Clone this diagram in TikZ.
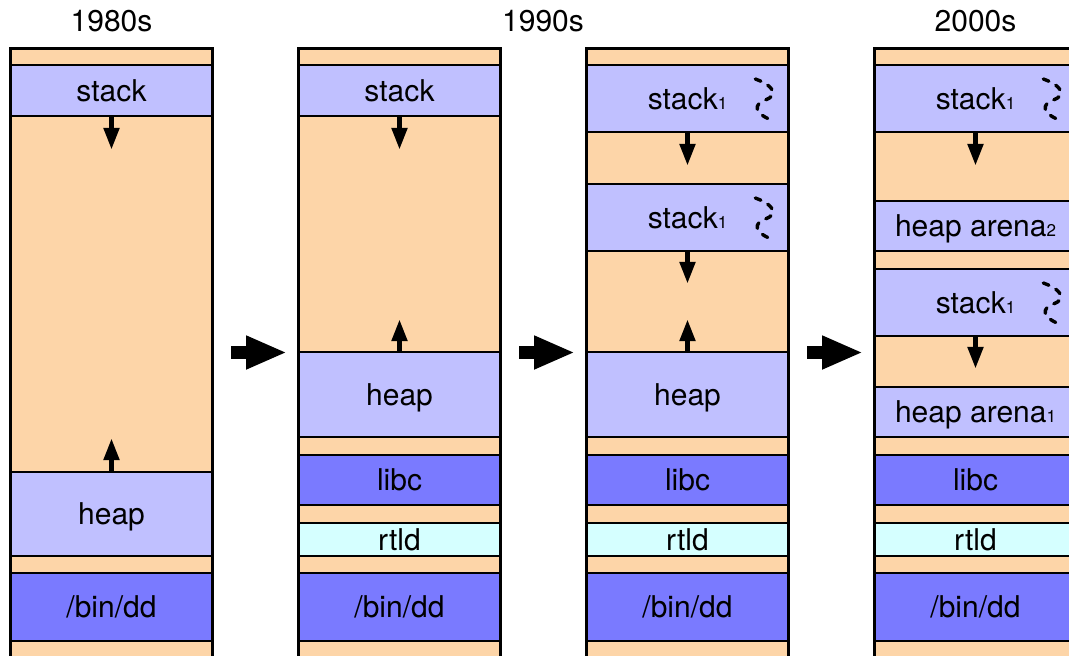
\documentclass[tikz,border=0pt]{standalone}
\usepackage{fontspec}
\setmainfont{TeX Gyre Heros}
\usetikzlibrary{arrows.meta}

\definecolor{peach}{RGB}{253,213,168}
\definecolor{lightmem}{RGB}{192,192,255}
\definecolor{darkmem}{RGB}{122,122,255}
\definecolor{ldcyan}{RGB}{213,255,255}
\newcommand{\lowidx}[1]{{\fontsize{17}{17}\selectfont #1}}

\tikzset{
  band/.style={draw, line width=1.6pt, minimum width=202pt, inner sep=0pt,
    text height=21pt, text depth=0pt},
  mem/.style={band, fill=lightmem},
  lib/.style={band, fill=darkmem},
  ldr/.style={band, fill=ldcyan},
  dirarrow/.style={line width=5pt, -{Triangle[length=22pt 0, width=15pt 0]}},
  bigarrow/.style={line width=13pt, -{Triangle[length=41pt 0, width=31pt 0]}},
  thread/.pic={
    \draw[line width=3.4pt, line cap=round, dash pattern=on 6pt off 8pt]
      (-34,-19.5) .. controls (-24,-16) and (-14,-10) .. (-17,-3)
      .. controls (-19,1) and (-30,2) .. (-32,8)
      .. controls (-33,15) and (-24,19) .. (-16,22.5);
  }
}

\begin{document}
\begin{tikzpicture}[x=1pt, y=-1pt, font=\fontsize{30}{36}\selectfont]
  \useasboundingbox (0,0) rectangle (1069,656);
  \clip (0,0) rectangle (1069,656);

  % column backgrounds
  \foreach \l in {10.5,298.5,586.5,874.5}
    \fill[peach] (\l,48.5) rectangle (\l+202,700);

  % years
  \node[anchor=base] (y80) at (111.5,31) {1980s};
  \node[anchor=base] (y90) at (543,31) {1990s};
  \node[anchor=base] (y00) at (975.5,31) {2000s};

  % 1980s
  \node[mem, minimum height=51pt] (a1) at (111.5,90.5) {stack};
  \node[mem, minimum height=84pt] (a2) at (111.5,514) {heap};
  \node[lib, minimum height=68pt] (a3) at (111.5,607) {/bin/dd};
  \draw[dirarrow] (a1.south) -- ++(0,33);
  \draw[dirarrow] (a2.north) -- ++(0,-33);

  % 1990s, no threads
  \node[mem, minimum height=51pt] (b1) at (399.5,90.5) {stack};
  \node[mem, minimum height=85pt] (b2) at (399.5,394.5) {heap};
  \node[lib, minimum height=50pt] (b3) at (399.5,480) {libc};
  \node[ldr, minimum height=33pt] (b4) at (399.5,539.5) {rtld};
  \node[lib, minimum height=68pt] (b5) at (399.5,607) {/bin/dd};
  \draw[dirarrow] (b1.south) -- ++(0,33);
  \draw[dirarrow] (b2.north) -- ++(0,-32);

  % 1990s, threads
  \node[mem, minimum height=67pt] (c1) at (687.5,98.5) {stack\lowidx{1}};
  \node[mem, minimum height=67pt] (c2) at (687.5,217.5) {stack\lowidx{1}};
  \node[mem, minimum height=85pt] (c3) at (687.5,394.5) {heap};
  \node[lib, minimum height=50pt] (c4) at (687.5,480) {libc};
  \node[ldr, minimum height=33pt] (c5) at (687.5,539.5) {rtld};
  \node[lib, minimum height=68pt] (c6) at (687.5,607) {/bin/dd};
  \pic at (c1.east) {thread};
  \pic at (c2.east) {thread};
  \draw[dirarrow] (c1.south) -- ++(0,33);
  \draw[dirarrow] (c2.south) -- ++(0,32);
  \draw[dirarrow] (c3.north) -- ++(0,-32);

  % 2000s
  \node[mem, minimum height=67pt] (d1) at (975.5,98.5) {stack\lowidx{1}};
  \node[mem, minimum height=50pt] (d2) at (975.5,226) {heap arena\lowidx{2}};
  \node[mem, minimum height=67pt] (d3) at (975.5,302.5) {stack\lowidx{1}};
  \node[mem, minimum height=50pt] (d4) at (975.5,412) {heap arena\lowidx{1}};
  \node[lib, minimum height=50pt] (d5) at (975.5,480) {libc};
  \node[ldr, minimum height=33pt] (d6) at (975.5,539.5) {rtld};
  \node[lib, minimum height=68pt] (d7) at (975.5,607) {/bin/dd};
  \pic at (d1.east) {thread};
  \pic at (d3.east) {thread};
  \draw[dirarrow] (d1.south) -- ++(0,33);
  \draw[dirarrow] (d3.south) -- ++(0,32);

  % column borders
  \foreach \l in {10.5,298.5,586.5,874.5}
    \draw[line width=3pt] (\l,700) |- (\l+202,48.5) -- (\l+202,700);

  % steps between columns
  \foreach \x in {231,519,807}
    \draw[bigarrow] (\x,352.5) -- ++(56,0);
\end{tikzpicture}
\end{document}
